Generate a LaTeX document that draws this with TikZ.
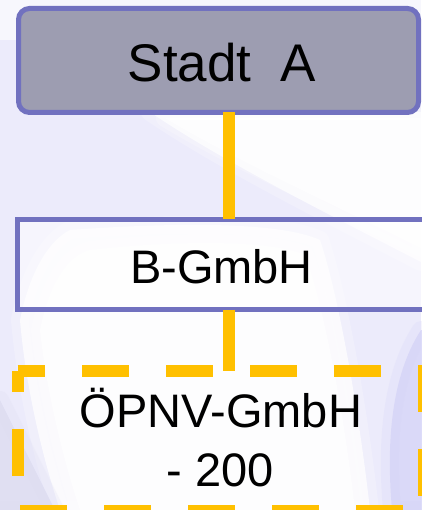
\documentclass[tikz,border=0pt]{standalone}
\usepackage{fontspec}
\setmainfont{Liberation Sans}
\definecolor{framecol}{HTML}{7171BF}
\definecolor{topfill}{HTML}{9D9DB1}
\definecolor{linkcol}{HTML}{FFC000}
\definecolor{haze}{HTML}{ECEBFB}
\definecolor{deephaze}{HTML}{D5D3F7}
\definecolor{greyhaze}{HTML}{DCDBF0}
\begin{document}
\begin{tikzpicture}[x=1pt,y=-1pt,
  box/.style={draw=framecol, line width=5pt, inner sep=0pt, outer sep=0pt},
  txt/.style={inner sep=0pt, anchor=base, text=black},
  big/.style={font=\fontsize{53}{60}\selectfont},
  mid/.style={font=\fontsize{47}{59}\selectfont},
  link/.style={draw=linkcol, line width=12pt, solid},
  dashbox/.style={draw=linkcol, line width=12pt, dash pattern=on 47pt off 37pt,
                  dash phase=19.5pt, line join=round},
  softfill/.style={fill=#1, fill opacity=0.75, draw=#1, draw opacity=0.22,
                   line width=18pt, line join=round},
]
\useasboundingbox (0,0) rectangle (421,510);
% background wash
\fill[haze] (0,0) rectangle (421,510);
\fill[white, opacity=0.6] (0,0) rectangle (421,40);
% light swoosh between the upper boxes
\path[softfill=white] (150,112) -- (421,112) -- (421,262) .. controls (330,215) and (220,160) .. cycle;
\path[softfill=white] (165,118) -- (421,118) -- (421,248) .. controls (330,203) and (235,160) .. cycle;
% light swoosh across the lower part
\path[softfill=white] (70,230) .. controls (180,222) and (280,222) .. (320,240)
   .. controls (340,300) and (360,420) .. (370,510) -- (60,510)
   .. controls (40,450) and (25,380) .. (20,320) .. controls (30,270) and (50,240) .. cycle;
\path[softfill=white] (90,250) .. controls (180,240) and (270,240) .. (305,255)
   .. controls (325,310) and (345,420) .. (355,510) -- (80,510)
   .. controls (60,450) and (45,380) .. (40,330) .. controls (50,280) and (70,255) .. cycle;
% deeper tints at the lower corners
\path[softfill=deephaze] (421,330) .. controls (395,370) and (385,430) .. (392,510) -- (430,510) -- (430,330) -- cycle;
\path[softfill=greyhaze] (0,400) .. controls (20,440) and (40,480) .. (55,510) -- (-10,510) -- (-10,400) -- cycle;

% boxes
\node[box, fill=topfill, rounded corners=11pt, minimum width=400pt, minimum height=104pt]
  (stadt) at (218.5,60.5) {};
\node[box, fill=white, fill opacity=0.55, minimum width=412.5pt, minimum height=90pt]
  (bgmbh) at (223.75,264.5) {};
\node[inner sep=0pt, outer sep=0pt, minimum width=406.5pt, minimum height=140.5pt]
  (opnv) at (220.75,440.75) {};
\draw[dashbox] (opnv.north west) -- (opnv.north east) -- (opnv.south east)
  -- (opnv.south west) -- cycle;

% connectors
\coordinate (spine) at (229,0);
\draw[link] (spine |- stadt.south) -- (spine |- bgmbh.north);
\draw[link] (spine |- bgmbh.south) -- (spine |- opnv.north);

% texts
\node[txt, big] (stadtT) at (222,82) {Stadt~~A};
\node[txt, mid] (bgmbhT) at (221.5,283) {B-GmbH};
\node[txt, mid] (opnvT1) at (221,427) {ÖPNV-GmbH};
\node[txt, mid] (opnvT2) at (220.5,486) {- 200};
\end{tikzpicture}
\end{document}
